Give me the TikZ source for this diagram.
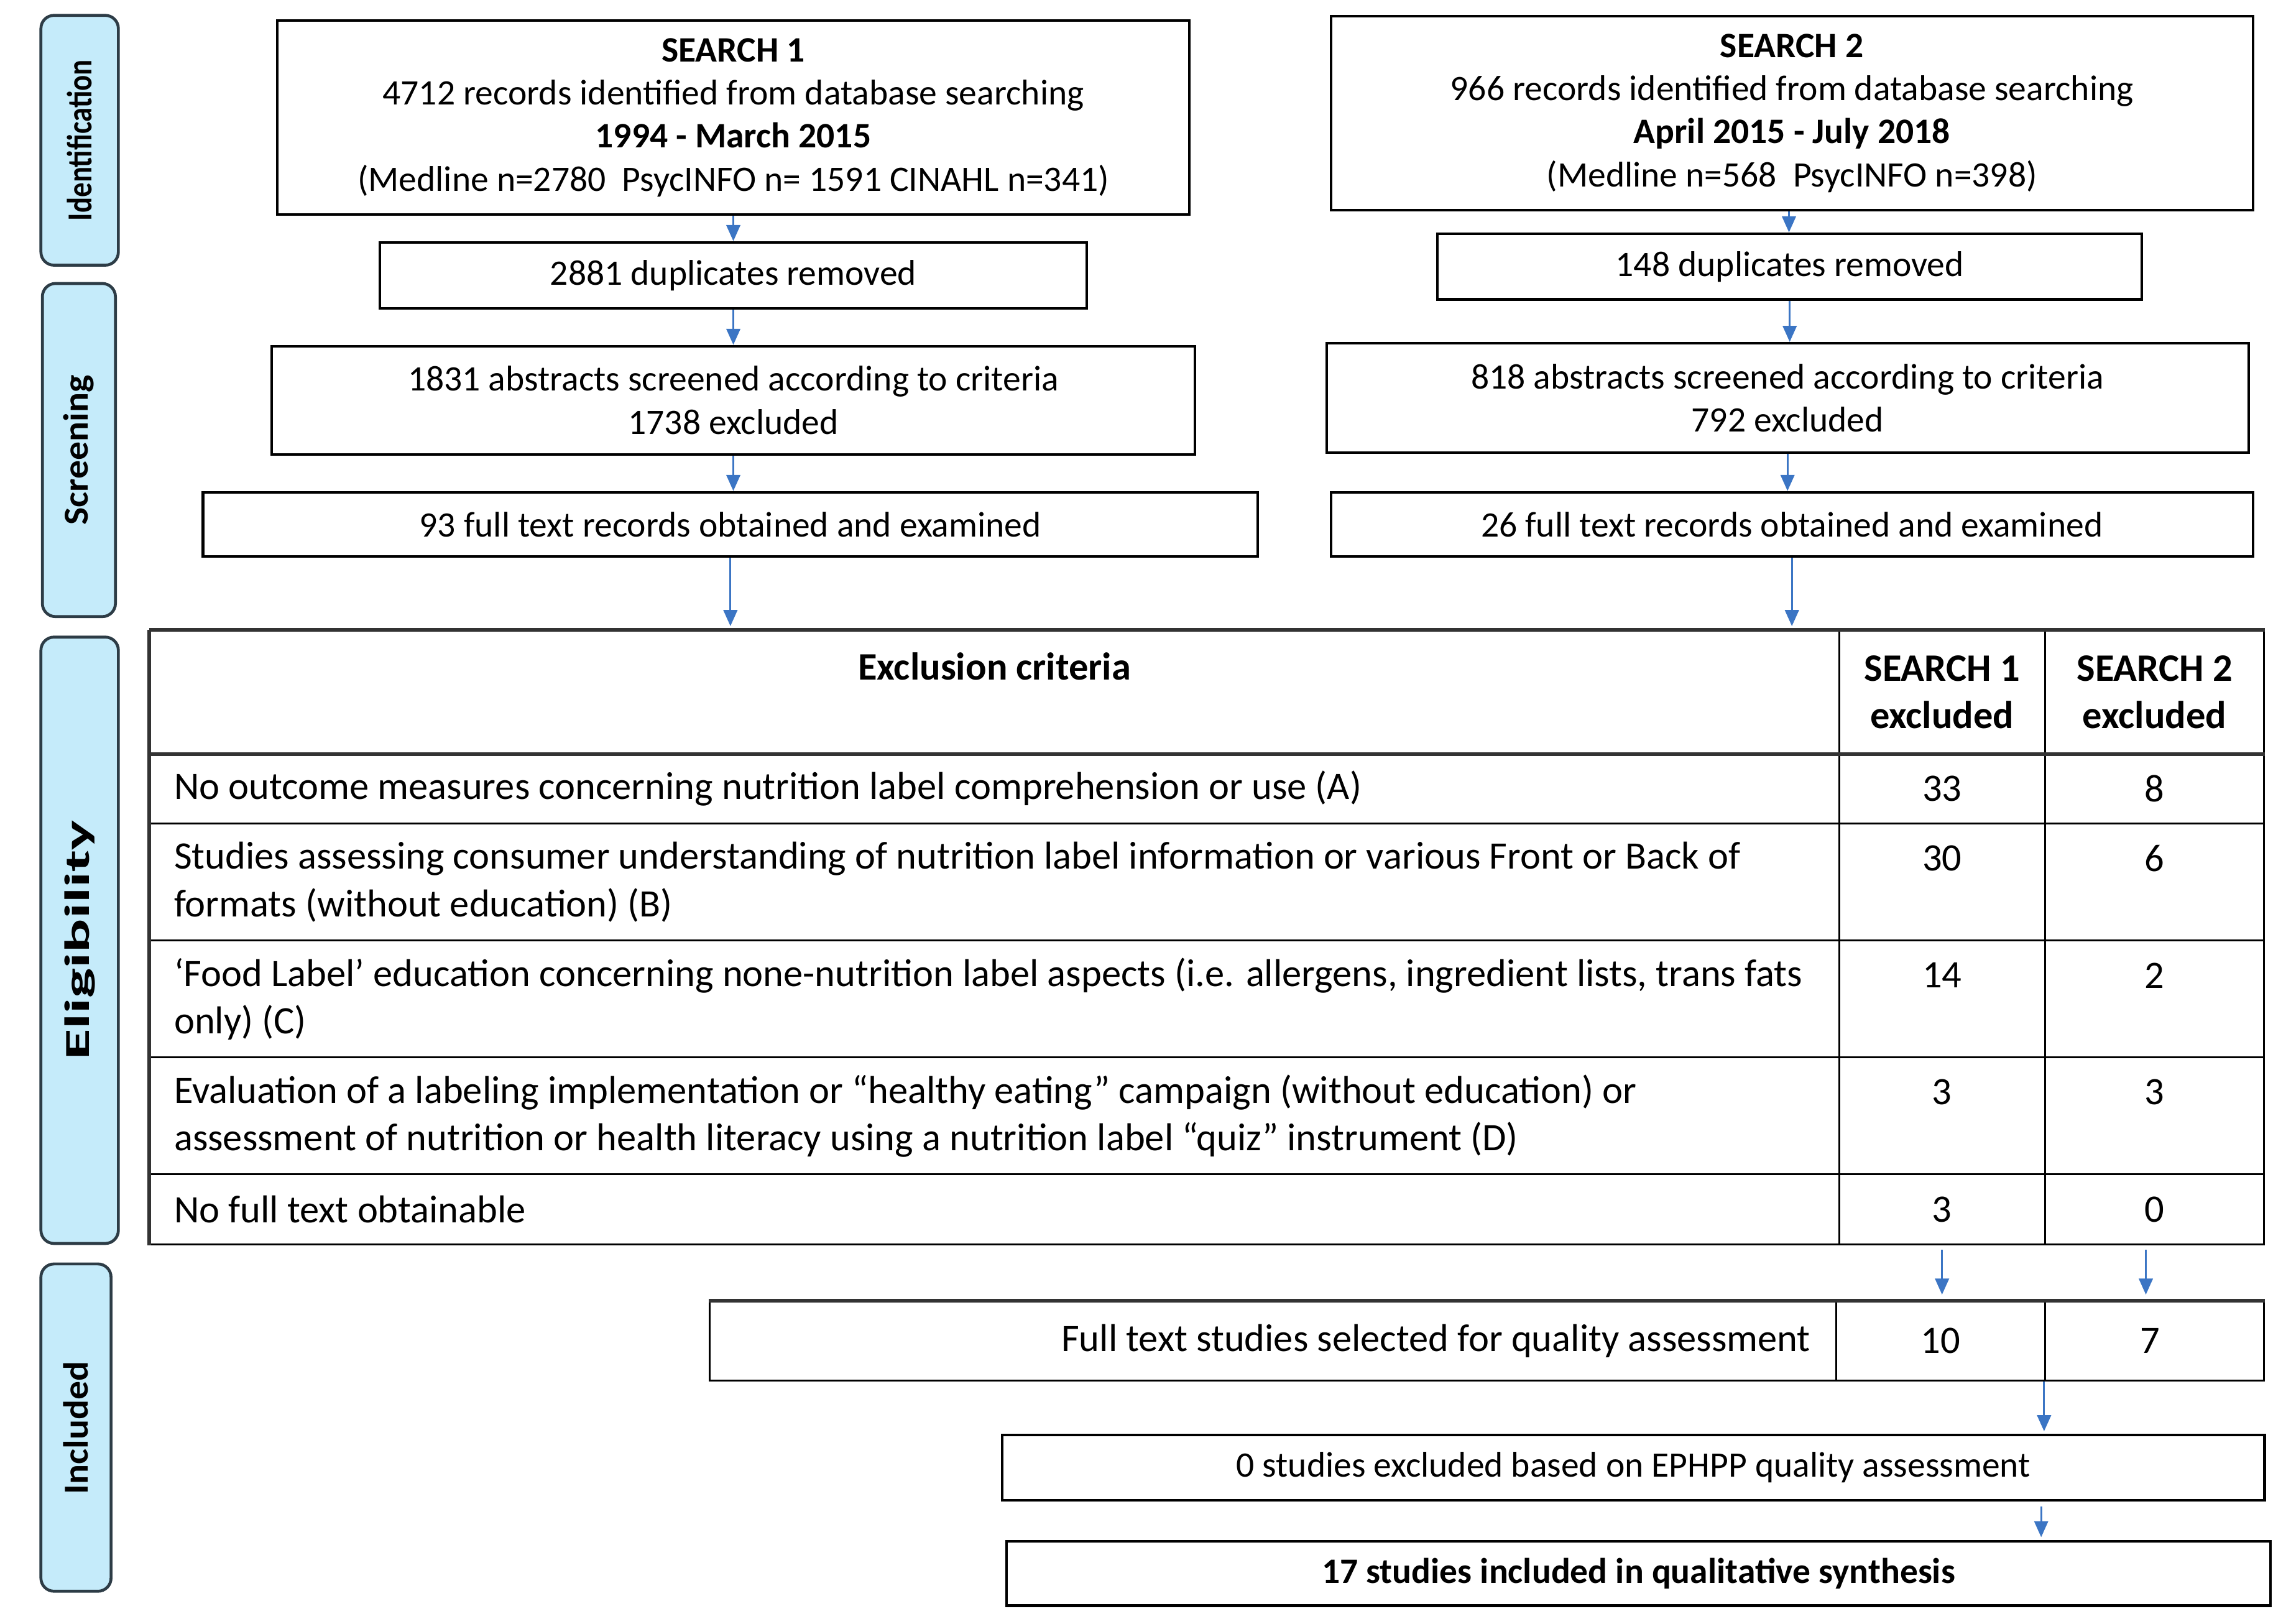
\documentclass[tikz,border=0pt]{standalone}
\usepackage{fontspec}
\setmainfont{Carlito}
\usetikzlibrary{arrows.meta,calc}
\definecolor{stagefill}{RGB}{197,235,250}
\definecolor{stageline}{RGB}{45,60,70}
\definecolor{arrowblue}{RGB}{59,117,196}
\newcommand{\myfs}{\fontsize{24.5}{29.5}\selectfont}
\newcommand{\tabfs}{\fontsize{26.6}{32.5}\selectfont}
\tikzset{
  box/.style={draw=black, line width=1.8pt, inner sep=0pt, anchor=north west, align=center, font=\myfs},
  cell/.style={draw=black, line width=1.3pt, inner sep=0pt, anchor=north west},
  stage/.style={draw=stageline, fill=stagefill, line width=2pt, rounded corners=9pt, inner sep=0pt, anchor=north west},
  stagetext/.style={rotate=90, inner sep=0pt, font=\fontsize{24}{24}\selectfont\bfseries},
  arr/.style={draw=arrowblue, line width=1.3pt, -{Triangle[length=11pt,width=9.5pt]}},
  celltext/.style={inner sep=0pt, align=left, font=\tabfs, anchor=west},
  num/.style={inner sep=0pt, font=\tabfs},
  heavy/.style={line width=2.6pt, draw=black!80},
}
\begin{document}
\begin{tikzpicture}[x=1pt,y=-1pt]
\useasboundingbox (0,0) rectangle (1568,1111.4);
% ---------- stage labels ----------
\node[stage, minimum width=53pt, minimum height=171pt] (st1) at (27,9.5) {};
\node[stagetext] (st1t) at (st1.center) {\scalebox{0.83}[1]{Identification}};
\node[stage, minimum width=50pt, minimum height=228pt] (st2) at (28,193) {};
\node[stagetext] (st2t) at (st2.center) {\scalebox{1.06}[1]{Screening}};
\node[stage, minimum width=53pt, minimum height=415pt] (st3) at (27,435) {};
\node[stagetext] (st3t) at (st3.center) {\scalebox{1.8}[1]{Eligibility}};
\node[stage, minimum width=48pt, minimum height=224pt] (st4) at (27,864) {};
\node[stagetext] (st4t) at (st4.center) {\scalebox{1.06}[1]{Included}};
% ---------- search 1 column ----------
\node[box, minimum width=624pt, minimum height=133pt] (s1) at (189,13)
  {{\bfseries SEARCH 1}\\4712 records identified from database searching\\{\bfseries 1994 - March 2015}\\(Medline n=2780\ \ PsycINFO n= 1591 CINAHL n=341)};
\node[box, minimum width=484pt, minimum height=45pt] (d1) at (259,165) {2881 duplicates removed};
\node[box, minimum width=632pt, minimum height=74pt] (a1) at (185,236)
  {1831 abstracts screened according to criteria\\1738 excluded};
\node[box, minimum width=722pt, minimum height=44pt] (f1) at (138,336) {93 full text records obtained and examined};
% ---------- search 2 column ----------
\node[box, minimum width=631pt, minimum height=133pt] (s2) at (910,10)
  {{\bfseries SEARCH 2}\\966 records identified from database searching\\{\bfseries April 2015 - July 2018}\\(Medline n=568\ \ PsycINFO n=398)};
\node[box, minimum width=482pt, minimum height=45pt] (d2) at (983,159) {148 duplicates removed};
\node[box, minimum width=631pt, minimum height=75pt] (a2) at (907,234)
  {818 abstracts screened according to criteria\\792 excluded};
\node[box, minimum width=631pt, minimum height=44pt] (f2) at (910,336) {26 full text records obtained and examined};
% ---------- table ----------
\node[cell, minimum width=1156pt, minimum height=84pt] (h0) at (102,431) {};
\node[cell, minimum width=141pt, minimum height=84pt] (h1) at (1258,431) {};
\node[cell, minimum width=150pt, minimum height=84pt] (h2) at (1399,431) {};
\node[cell, minimum width=1156pt, minimum height=48pt] (rA) at (102,515) {};
\node[cell, minimum width=141pt, minimum height=48pt] (nA1) at (1258,515) {};
\node[cell, minimum width=150pt, minimum height=48pt] (nA2) at (1399,515) {};
\node[cell, minimum width=1156pt, minimum height=80pt] (rB) at (102,563) {};
\node[cell, minimum width=141pt, minimum height=80pt] (nB1) at (1258,563) {};
\node[cell, minimum width=150pt, minimum height=80pt] (nB2) at (1399,563) {};
\node[cell, minimum width=1156pt, minimum height=80pt] (rC) at (102,643) {};
\node[cell, minimum width=141pt, minimum height=80pt] (nC1) at (1258,643) {};
\node[cell, minimum width=150pt, minimum height=80pt] (nC2) at (1399,643) {};
\node[cell, minimum width=1156pt, minimum height=80pt] (rD) at (102,723) {};
\node[cell, minimum width=141pt, minimum height=80pt] (nD1) at (1258,723) {};
\node[cell, minimum width=150pt, minimum height=80pt] (nD2) at (1399,723) {};
\node[cell, minimum width=1156pt, minimum height=48pt] (rE) at (102,803) {};
\node[cell, minimum width=141pt, minimum height=48pt] (nE1) at (1258,803) {};
\node[cell, minimum width=150pt, minimum height=48pt] (nE2) at (1399,803) {};
\draw[heavy] (h0.north west) -- (h2.north east);
\draw[heavy] (h0.south west) -- (h2.south east);
\draw[heavy] (h0.north west) -- (rE.south west);
% header texts
\node[num, font=\tabfs\bfseries] (hx) at ([yshift=-25pt]h0.north) {Exclusion criteria};
\node[num, font=\tabfs\bfseries, align=center] (hs1) at (h1.center) {SEARCH 1\\excluded};
\node[num, font=\tabfs\bfseries, align=center] (hs2) at (h2.center) {SEARCH 2\\excluded};
% rows
\node[celltext] (tA) at ([xshift=17pt]rA.west) {No outcome measures concerning nutrition label comprehension or use (A)};
\node[celltext] (tB) at ([xshift=17pt]rB.west) {Studies assessing consumer understanding of nutrition label information or various Front or Back of\\formats (without education) (B)};
\node[celltext] (tC) at ([xshift=17pt]rC.west) {‘Food Label’ education concerning none-nutrition label aspects (i.e. allergens, ingredient lists, trans fats\\only) (C)};
\node[celltext] (tD) at ([xshift=17pt]rD.west) {Evaluation of a labeling implementation or “healthy eating” campaign (without education) or\\assessment of nutrition or health literacy using a nutrition label “quiz” instrument (D)};
\node[celltext] (tE) at ([xshift=17pt]rE.west) {No full text obtainable};
\node[num] (vA1) at (nA1.center) {33};
\node[num] (vA2) at (nA2.center) {8};
\node[num] (vB1) at ([yshift=-24.5pt]nB1.north) {30};
\node[num] (vB2) at ([yshift=-24.5pt]nB2.north) {6};
\node[num] (vC1) at ([yshift=-24.5pt]nC1.north) {14};
\node[num] (vC2) at ([yshift=-24.5pt]nC2.north) {2};
\node[num] (vD1) at ([yshift=-24.5pt]nD1.north) {3};
\node[num] (vD2) at ([yshift=-24.5pt]nD2.north) {3};
\node[num] (vE1) at (nE1.center) {3};
\node[num] (vE2) at (nE2.center) {0};
% ---------- full text row ----------
\node[cell, minimum width=771pt, minimum height=54pt] (g0) at (485,890) {};
\node[cell, minimum width=143pt, minimum height=54pt] (g1) at (1256,890) {};
\node[cell, minimum width=150pt, minimum height=54pt] (g2) at (1399,890) {};
\draw[heavy] (g0.north west) -- (g2.north east);
\node[num, anchor=east] (gt) at ([xshift=-18pt]g0.east) {Full text studies selected for quality assessment};
\node[num] (g1t) at (g1.center) {10};
\node[num] (g2t) at ([xshift=-3pt]g2.center) {7};
% ---------- bottom boxes ----------
\node[box, minimum width=864pt, minimum height=45pt] (eph) at (685,981) {0 studies excluded based on EPHPP quality assessment};
\node[box, minimum width=865pt, minimum height=44pt] (fin) at (688,1054) {\bfseries 17 studies included in qualitative synthesis};
% ---------- arrows ----------
\draw[arr] (s1.south) -- (s1.south |- d1.north);
\draw[arr] (d1.south) -- (d1.south |- a1.north);
\draw[arr] (a1.south) -- (a1.south |- f1.north);
\draw[arr, shorten >=2.5pt] (f1.south) -- (f1.south |- h0.north);
\draw[arr] ([xshift=-2pt]s2.south) -- ([xshift=-2pt]s2.south |- d2.north);
\draw[arr] (d2.south) -- (d2.south |- a2.north);
\draw[arr] (a2.south) -- (a2.south |- f2.north);
\draw[arr, shorten >=2.5pt] (f2.south) -- (f2.south |- h0.north);
\draw[arr, shorten <=3pt, shorten >=4pt] (nE1.south) -- (nE1.south |- g1.north);
\draw[arr, shorten <=3pt, shorten >=4pt] ([xshift=-6pt]nE2.south) -- ([xshift=-6pt]nE2.south |- g2.north);
\draw[arr, shorten >=1.5pt] (g2.south west) -- (g2.south west |- eph.north);
\draw[arr, shorten <=3pt, shorten >=2pt] ([xshift=-2pt]eph.south -| g2.south west) -- ([xshift=-2pt]fin.north -| g2.south west);
\end{tikzpicture}
\end{document}
